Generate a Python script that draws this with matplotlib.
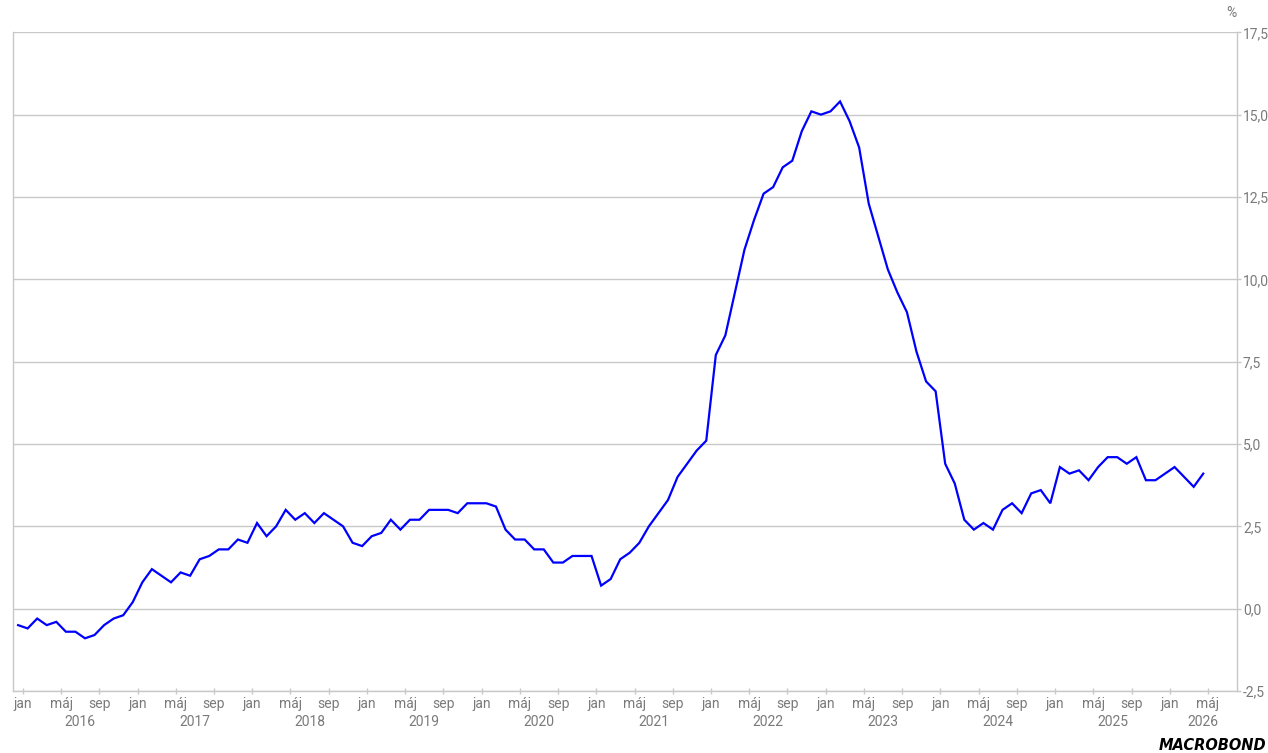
import matplotlib
matplotlib.use("Agg")
import matplotlib.pyplot as plt
import matplotlib.transforms as mtransforms

# Monthly values, Dec 2015 .. Apr 2026 (%)
values = [
    -0.5,
    # 2016
    -0.6, -0.3, -0.5, -0.4, -0.7, -0.7, -0.9, -0.8, -0.5, -0.3, -0.2, 0.2,
    # 2017
    0.8, 1.2, 1.0, 0.8, 1.1, 1.0, 1.5, 1.6, 1.8, 1.8, 2.1, 2.0,
    # 2018
    2.6, 2.2, 2.5, 3.0, 2.7, 2.9, 2.6, 2.9, 2.7, 2.5, 2.0, 1.9,
    # 2019
    2.2, 2.3, 2.7, 2.4, 2.7, 2.7, 3.0, 3.0, 3.0, 2.9, 3.2, 3.2,
    # 2020
    3.2, 3.1, 2.4, 2.1, 2.1, 1.8, 1.8, 1.4, 1.4, 1.6, 1.6, 1.6,
    # 2021
    0.7, 0.9, 1.5, 1.7, 2.0, 2.5, 2.9, 3.3, 4.0, 4.4, 4.8, 5.1,
    # 2022
    7.7, 8.3, 9.6, 10.9, 11.8, 12.6, 12.8, 13.4, 13.6, 14.5, 15.1, 15.0,
    # 2023
    15.1, 15.4, 14.8, 14.0, 12.3, 11.3, 10.3, 9.6, 9.0, 7.8, 6.9, 6.6,
    # 2024
    4.4, 3.8, 2.7, 2.4, 2.6, 2.4, 3.0, 3.2, 2.9, 3.5, 3.6, 3.2,
    # 2025
    4.3, 4.1, 4.2, 3.9, 4.3, 4.6, 4.6, 4.4, 4.6, 3.9, 3.9, 4.1,
    # 2026
    4.3, 4.0, 3.7, 4.1,
]

years = list(range(2016, 2027))
month_names = ["jan", "máj", "sep"]
y_ticks = [-2.5, 0.0, 2.5, 5.0, 7.5, 10.0, 12.5, 15.0, 17.5]

# month axis: 0 = start of Jan 2016; each point plotted mid-month
xs = [i - 0.5 for i in range(len(values))]
x_min, x_max = -1, 127

gray_txt = "#7a7a7a"
grid_col = "#c8c8c8"
font = "Roboto"
fs = 10

fig = plt.figure(figsize=(12.68, 7.53), dpi=100)
ax = fig.add_axes([13.3 / 1268, 1 - 691 / 753, (1236.7 - 13.3) / 1268, (691 - 32.3) / 753])

ax.plot(xs, values, color="#0000ff", lw=1.6, solid_joinstyle="miter", zorder=3)

ax.set_xlim(x_min, x_max)
ax.set_ylim(-2.5, 17.5)

# y axis on the right
ax.yaxis.tick_right()
ax.set_yticks(y_ticks)
ax.set_yticklabels([f"{v:.1f}".replace(".", ",") for v in y_ticks],
                   fontsize=fs, color=gray_txt, family=font)
ax.tick_params(axis="y", direction="out", length=3, width=1, color=grid_col, pad=1.5)
for v in y_ticks:
    ax.axhline(v, color=grid_col, lw=1, zorder=1)

# x axis
xt = list(range(0, 125, 4))
ax.set_xticks(xt)
ax.set_xticklabels([month_names[(m % 12) // 4] for m in xt],
                   fontsize=fs, color=gray_txt, family=font)
ax.tick_params(axis="x", direction="inout", length=4, width=1, color=grid_col, pad=2)

for side in ["left", "right", "bottom"]:
    ax.spines[side].set_color(grid_col)
    ax.spines[side].set_linewidth(1)
ax.spines["top"].set_visible(False)

trans = mtransforms.blended_transform_factory(ax.transData, fig.transFigure)
for k, yr in enumerate(years):
    a = k * 12
    b = min(a + 12, x_max)
    ax.text((a + b) / 2, 1 - 721.5 / 753, str(yr), transform=trans,
            ha="center", va="center", fontsize=fs, color=gray_txt, family=font)

fig.text(1231 / 1268, 1 - 13 / 753, "%", ha="center", va="center",
         fontsize=fs, color=gray_txt, family=font)

fig.text(1266 / 1268, 1 - 746 / 753, "MACROBOND", ha="right", va="center",
         fontsize=10.5, color="black", family="DejaVu Sans", weight="bold", style="italic")

fig.savefig("out.png", dpi=100)
